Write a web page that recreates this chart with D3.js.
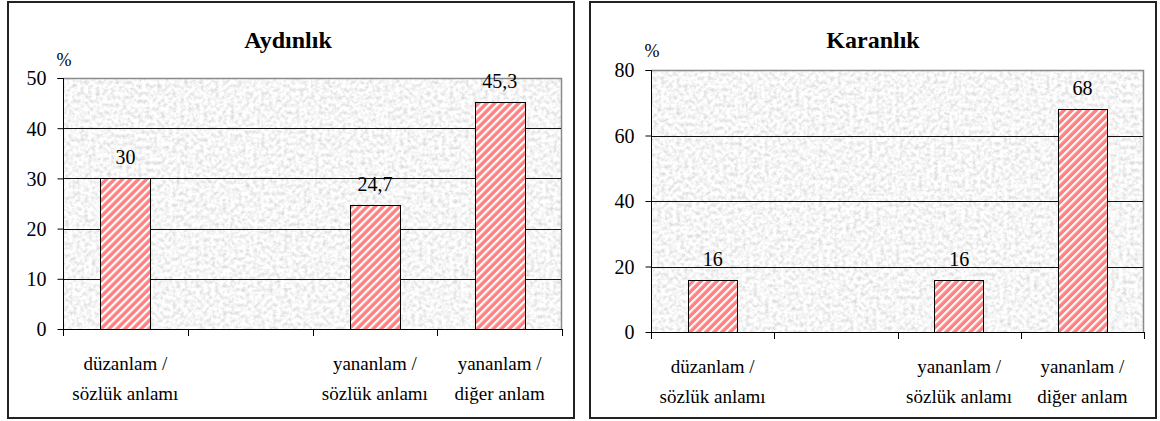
<!DOCTYPE html>
<html>
<head>
<meta charset="utf-8">
<script src="https://cdn.jsdelivr.net/npm/d3@7"></script>
<style>
  html, body { margin: 0; padding: 0; background: #fff; }
  svg { display: block; }
</style>
</head>
<body>
<svg id="chart" width="1160" height="421"></svg>
<script>
// Category labels (second slot is an empty category), values and ticks
const categories = ["düzanlam /\nsözlük anlamı", "", "yananlam /\nsözlük anlamı", "yananlam /\ndiğer anlam"];
const aydinlikValues = [30, null, 24.7, 45.3];
const karanlikValues = [16, null, 16, 68];
const aydinlikTicks = [0, 10, 20, 30, 40, 50];
const karanlikTicks = [0, 20, 40, 60, 80];
const panelTitles = ["Aydınlık", "Karanlık"];
const unitLabel = "%";

const SERIF = "'Liberation Serif', 'Times New Roman', Tinos, serif";

const svg = d3.select("#chart").style("font-family", SERIF);
const defs = svg.append("defs");

// Granite-like grey texture for the plot areas
const tex = defs.append("filter").attr("id", "granite")
  .attr("x", 0).attr("y", 0).attr("width", 1).attr("height", 1);
tex.append("feTurbulence").attr("type", "fractalNoise")
  .attr("baseFrequency", 0.26).attr("numOctaves", 3).attr("seed", 11).attr("result", "n");
tex.append("feColorMatrix").attr("in", "n").attr("type", "matrix")
  .attr("values", "0.62 0 0 0 0.61  0.62 0 0 0 0.61  0.62 0 0 0 0.61  0 0 0 0 1");

// Red bars with white upward diagonal stripes
const stripes = defs.append("pattern").attr("id", "stripes")
  .attr("patternUnits", "userSpaceOnUse")
  .attr("width", 5.66).attr("height", 10)
  .attr("patternTransform", "rotate(45)");
stripes.append("rect").attr("width", 5.66).attr("height", 10).attr("fill", "#ff8080");
stripes.append("rect").attr("width", 2.2).attr("height", 10).attr("fill", "#ffffff");

function txt(sel, size, weight) {
  return sel.attr("font-family", SERIF).style("font-family", SERIF)
    .style("font-size", size + "px").style("font-weight", weight || "normal")
    .attr("fill", "#000");
}

function drawPanel(cfg) {
  const g = svg.append("g");

  // outer frame
  g.append("rect")
    .attr("x", cfg.frame[0]).attr("y", cfg.frame[1])
    .attr("width", cfg.frame[2] - cfg.frame[0]).attr("height", cfg.frame[3] - cfg.frame[1])
    .attr("fill", "#fff").attr("stroke", "#222").attr("stroke-width", 2);

  const [x0, y0, x1, y1] = cfg.plot;
  const x = d3.scaleBand().domain(d3.range(categories.length))
    .range([x0, x1]).paddingInner(0.6).paddingOuter(0.3);
  const y = d3.scaleLinear().domain([0, d3.max(cfg.ticks)]).range([y1, y0]);

  // textured plot background
  g.append("rect").attr("x", x0).attr("y", y0)
    .attr("width", x1 - x0).attr("height", y1 - y0)
    .attr("filter", "url(#granite)");
  // gray top/right border of plot area
  g.append("path")
    .attr("d", `M${x0},${y0 + 0.5}H${x1 - 0.5}V${y1}`)
    .attr("fill", "none").attr("stroke", "#8a8a8a").attr("stroke-width", 1.5);

  // horizontal grid lines
  g.append("g").selectAll("line").data(cfg.ticks.filter(t => t > 0 && t < d3.max(cfg.ticks)))
    .join("line")
    .attr("x1", x0).attr("x2", x1 - 1)
    .attr("y1", d => Math.round(y(d)) + 0.5).attr("y2", d => Math.round(y(d)) + 0.5)
    .attr("stroke", "#111").attr("stroke-width", 1);

  // bars
  const items = cfg.values.map((v, i) => ({ v, i })).filter(d => d.v != null);
  g.append("g").selectAll("rect").data(items).join("rect")
    .attr("x", d => Math.round(x(d.i)) + 0.5)
    .attr("y", d => Math.round(y(d.v)) + 0.5)
    .attr("width", Math.round(x.bandwidth()))
    .attr("height", d => Math.round(y(0)) - Math.round(y(d.v)))
    .attr("fill", "url(#stripes)")
    .attr("stroke", "#000").attr("stroke-width", 1);

  // value labels
  txt(g.append("g").selectAll("text").data(items).join("text"), 20)
    .attr("x", d => x(d.i) + x.bandwidth() / 2)
    .attr("y", d => y(d.v) - 14)
    .attr("text-anchor", "middle")
    .text(d => String(d.v).replace(".", ","));

  // y axis
  const yAxis = d3.axisLeft(y).tickValues(cfg.ticks).tickSize(6).tickPadding(11)
    .tickFormat(d3.format("d"));
  const ya = g.append("g").attr("transform", `translate(${x0 + 0.5},0)`).call(yAxis)
    .attr("font-family", SERIF);
  ya.select(".domain").attr("d", `M-6,${y0 + 0.5}H0V${y1 + 7}`).attr("stroke", "#000");
  ya.selectAll(".tick line").attr("stroke", "#000");
  txt(ya.selectAll(".tick text"), 20).attr("dy", "0.34em");

  // x axis: ticks at category boundaries
  const step = x.step();
  const start = x(0) - x.paddingOuter() * step;
  const bounds = d3.range(categories.length + 1).map(k => start + k * step);
  g.append("line")
    .attr("x1", x0).attr("x2", x1)
    .attr("y1", Math.round(y1) + 0.5).attr("y2", Math.round(y1) + 0.5)
    .attr("stroke", "#000");
  g.append("g").selectAll("line").data(bounds.slice(1)).join("line")
    .attr("x1", d => Math.round(d) + 0.5).attr("x2", d => Math.round(d) + 0.5)
    .attr("y1", y1).attr("y2", y1 + 7)
    .attr("stroke", "#000");

  // category labels (two lines)
  const labels = txt(g.append("g").selectAll("text").data(categories).join("text"), 19)
    .attr("text-anchor", "middle");
  labels.each(function (c, i) {
    const lines = c ? c.split("\n") : [];
    d3.select(this).selectAll("tspan").data(lines).join("tspan")
      .attr("x", x(i) + x.bandwidth() / 2)
      .attr("y", (d, j) => y1 + 41 + j * 30)
      .text(d => d);
  });

  // unit label
  txt(g.append("text"), 18).attr("x", x0 + 1).attr("y", cfg.unitY)
    .attr("text-anchor", "middle").text(unitLabel);

  // title
  txt(g.append("text"), 24, "bold").attr("x", cfg.titleX).attr("y", 48)
    .attr("text-anchor", "middle")
    .text(cfg.title);
}

drawPanel({
  frame: [8, 2, 574, 418],
  plot: [63, 78, 562, 329],
  ticks: aydinlikTicks,
  values: aydinlikValues,
  title: panelTitles[0],
  titleX: 288,
  unitY: 66
});

drawPanel({
  frame: [590, 2, 1156, 418],
  plot: [651, 70, 1144, 332],
  ticks: karanlikTicks,
  values: karanlikValues,
  title: panelTitles[1],
  titleX: 873,
  unitY: 57
});
</script>
</body>
</html>
